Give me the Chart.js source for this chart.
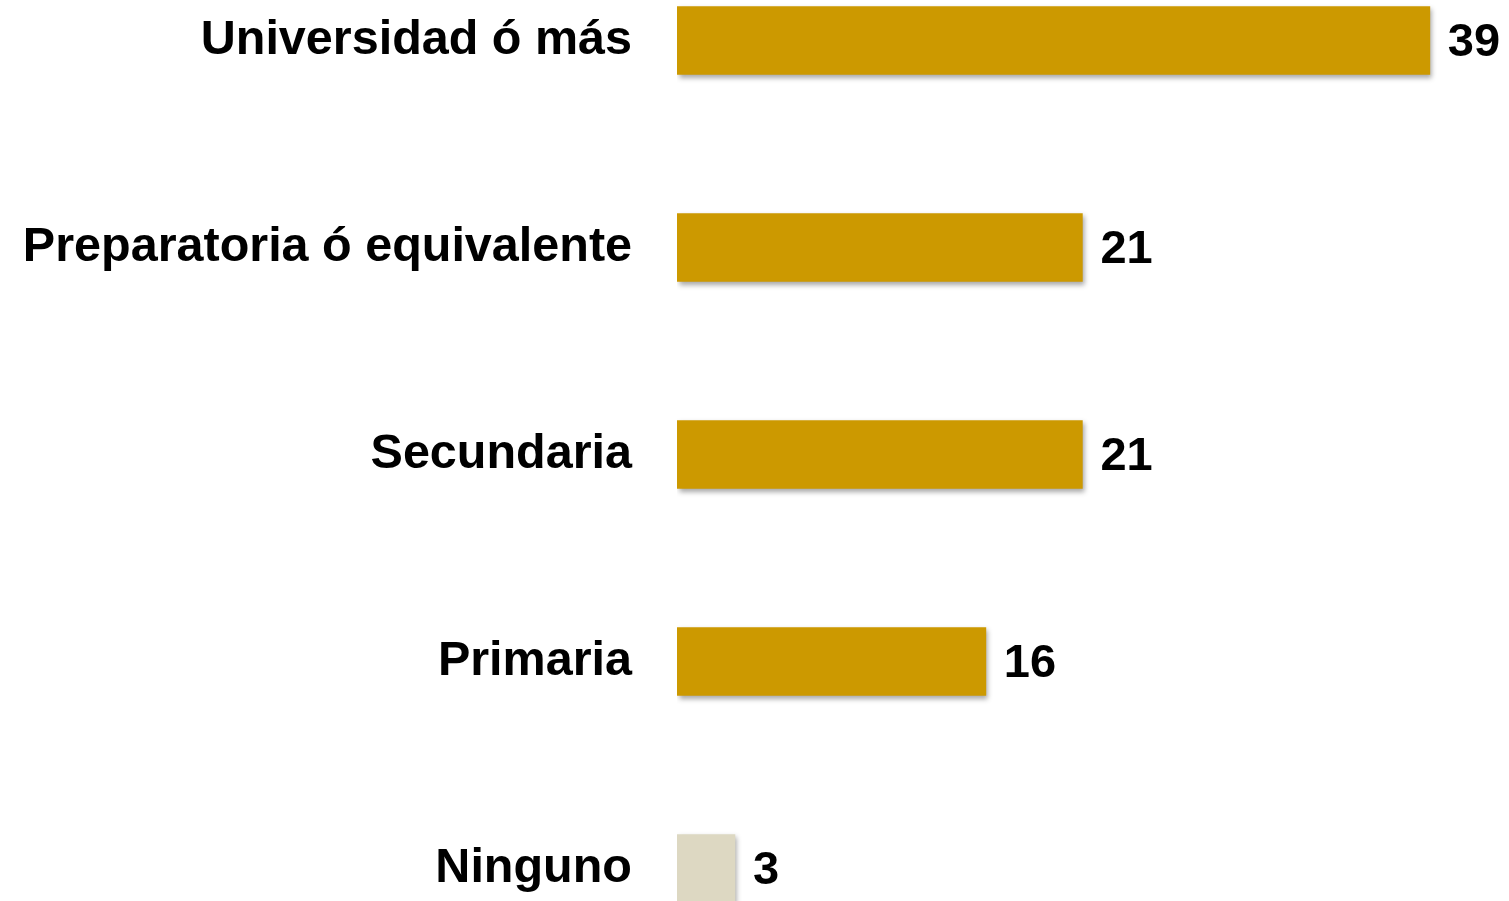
<!DOCTYPE html>
<html>
<head>
<meta charset="utf-8">
<script src="https://cdn.jsdelivr.net/npm/chart.js@4"></script>
<style>
  html, body { margin: 0; padding: 0; background: #ffffff; overflow: hidden; width: 1509px; height: 901px; }
  #wrap { position: absolute; left: 0; top: -63.5px; width: 1509px; height: 1035px; }
</style>
</head>
<body>
<div id="wrap"><canvas id="c"></canvas></div>
<script>
const categories = ["Universidad ó más", "Preparatoria ó equivalente", "Secundaria", "Primaria", "Ninguno"];
const values = [39, 21, 21, 16, 3];
const barColors = ["#CC9900", "#CC9900", "#CC9900", "#CC9900", "#DDD8C2"];

const FONT = "'Liberation Sans', Arial, sans-serif";

const shadowPlugin = {
  id: 'shadow',
  beforeDatasetDraw(chart) {
    const ctx = chart.ctx;
    ctx.save();
    ctx.shadowColor = 'rgba(0,0,0,0.35)';
    ctx.shadowBlur = 5;
    ctx.shadowOffsetX = 2;
    ctx.shadowOffsetY = 3;
  },
  afterDatasetDraw(chart) {
    chart.ctx.restore();
  }
};

const valueLabels = {
  id: 'valueLabels',
  afterDatasetsDraw(chart) {
    const ctx = chart.ctx;
    const meta = chart.getDatasetMeta(0);
    ctx.save();
    ctx.font = "bold 47px " + FONT;
    ctx.fillStyle = "#000000";
    ctx.textAlign = "left";
    ctx.textBaseline = "middle";
    meta.data.forEach((bar, i) => {
      ctx.fillText(String(values[i]), bar.x + 18, bar.y + 3);
    });
    ctx.restore();
  }
};

new Chart(document.getElementById('c'), {
  type: 'bar',
  data: {
    labels: categories,
    datasets: [{
      data: values,
      backgroundColor: barColors,
      borderWidth: 0,
      barThickness: 68
    }]
  },
  options: {
    indexAxis: 'y',
    responsive: true,
    maintainAspectRatio: false,
    animation: false,
    layout: { padding: 0 },
    plugins: { legend: { display: false }, tooltip: { enabled: false } },
    scales: {
      x: {
        display: false,
        min: 0,
        max: 43.1
      },
      y: {
        grid: { display: false, drawTicks: false },
        border: { display: false },
        ticks: {
          color: "#000000",
          padding: 45,
          font: { family: FONT, size: 48.5, weight: 'bold' }
        },
        afterFit(scale) {
          scale.width = 677;
          scale.paddingTop = 0;
          scale.paddingBottom = 0;
        }
      }
    }
  },
  plugins: [shadowPlugin, valueLabels]
});
</script>
</body>
</html>
